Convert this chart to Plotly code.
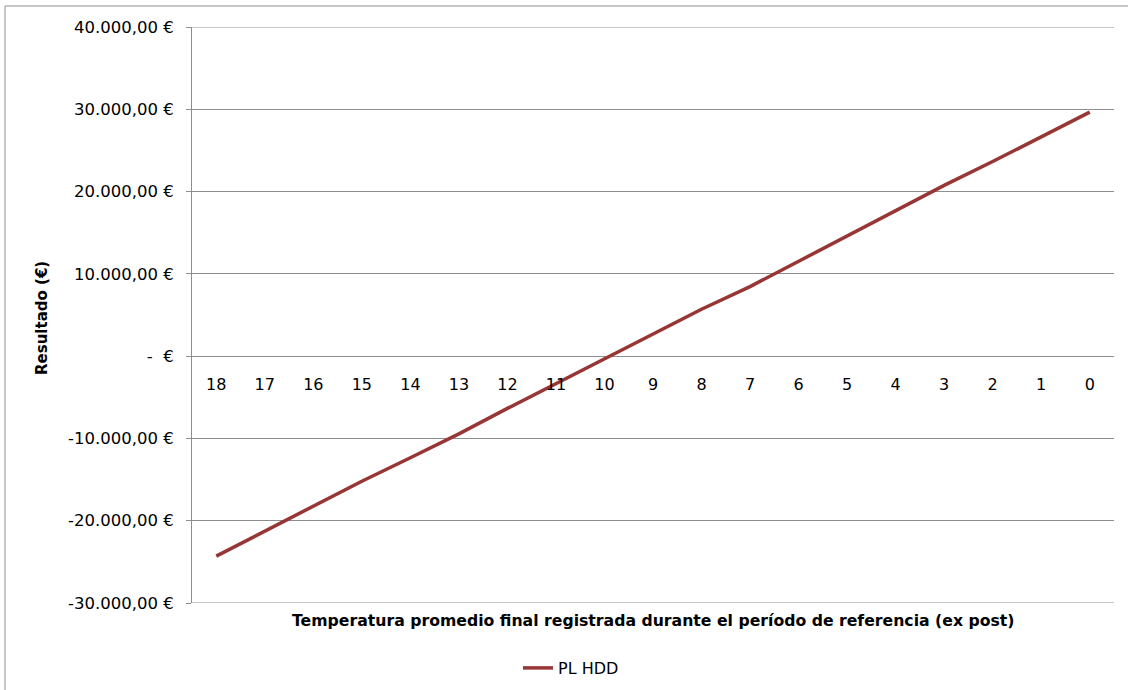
import plotly.graph_objects as go

# Final average temperature during the reference period (ex post)
temperaturas = ["18", "17", "16", "15", "14", "13", "12", "11", "10",
                "9", "8", "7", "6", "5", "4", "3", "2", "1", "0"]

# PL HDD result in euros for each temperature
pl_hdd = [-24300, -21300, -18300, -15200, -12350, -9450, -6350, -3350, -300,
          2700, 5700, 8450, 11500, 14650, 17650, 20750, 23650, 26650, 29650]

y_ticks = [-30000, -20000, -10000, 0, 10000, 20000, 30000, 40000]


def euro(v):
    if v == 0:
        return "-  €"
    s = f"{abs(v):,.2f}".replace(",", "X").replace(".", ",").replace("X", ".")
    return ("-" if v < 0 else "") + s + " €"


GRID = "#8e8e8e"
FONT = "DejaVu Sans, Liberation Sans, Arial, sans-serif"

fig = go.Figure()
fig.add_trace(go.Scatter(
    x=temperaturas, y=pl_hdd, mode="lines", name="PL HDD",
    line=dict(color="#983535", width=3.5),
))

# gridlines on the two ends of the value range (plotly skips those)
edge_lines = [dict(type="line", xref="paper", yref="y", x0=0, x1=1,
                   y0=v, y1=v, line=dict(color=GRID, width=1), layer="below")
              for v in (y_ticks[0], y_ticks[-1])]

fig.update_layout(
    width=1128, height=690,
    margin=dict(l=192, r=14, t=27, b=87, autoexpand=False),
    paper_bgcolor="white", plot_bgcolor="white",
    font=dict(family=FONT, size=15, color="black"),
    showlegend=True,
    legend=dict(x=(571 - 192) / 922, y=(603 - 668) / 576, xanchor="center",
                yanchor="middle", orientation="h",
                font=dict(family=FONT, size=16, color="black"),
                bgcolor="rgba(0,0,0,0)"),
    xaxis=dict(
        type="category", range=[-0.5, 18.5],
        anchor="free", position=3 / 7,
        showline=False, showgrid=False, zeroline=False, ticks="",
        tickfont=dict(family=FONT, size=16, color="black"),
        ticklabelstandoff=17,
    ),
    yaxis=dict(
        range=[y_ticks[0], y_ticks[-1]], tickvals=y_ticks,
        ticktext=[euro(v) for v in y_ticks],
        showgrid=True, gridcolor=GRID, gridwidth=1,
        zeroline=True, zerolinecolor=GRID, zerolinewidth=1,
        showline=True, linecolor=GRID, linewidth=1,
        ticks="outside", ticklen=5, tickcolor=GRID,
        tickfont=dict(family=FONT, size=16.5, color="black"),
        ticklabelstandoff=9,
    ),
    shapes=[dict(type="rect", xref="paper", yref="paper",
                 x0=(5 - 192) / 922, x1=(1135 - 192) / 922,
                 y0=(603 - 700) / 576, y1=(603 - 6) / 576,
                 line=dict(color=GRID, width=1), layer="below")] + edge_lines,
    annotations=[
        dict(text="<b>Temperatura promedio final registrada durante el período de referencia (ex post)</b>",
             xref="paper", yref="paper", x=0.5, y=(603 - 620) / 576,
             xanchor="center", yanchor="middle", showarrow=False,
             font=dict(family=FONT, size=15.7, color="black")),
        dict(text="<b>Resultado (€)</b>", textangle=-90,
             xref="paper", yref="paper", x=(42 - 192) / 922, y=(603 - 318) / 576,
             xanchor="center", yanchor="middle", showarrow=False,
             font=dict(family=FONT, size=15, color="black")),
    ],
)

fig.write_html("out.html")
